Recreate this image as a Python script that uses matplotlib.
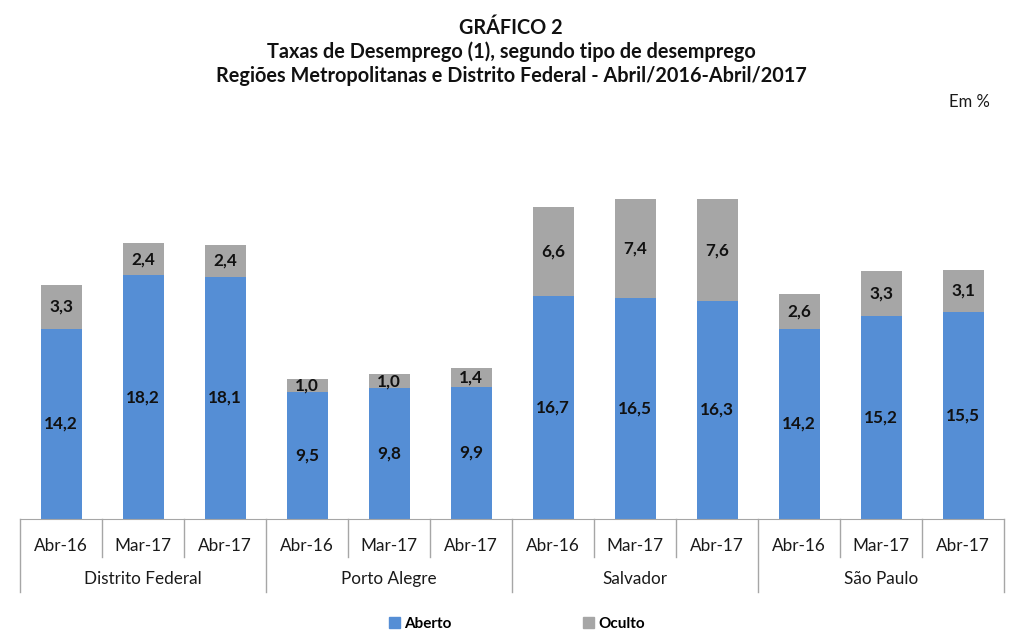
import matplotlib
matplotlib.use("Agg")
import matplotlib.pyplot as plt
from matplotlib.patches import Patch
import numpy as np

regions = ["Distrito Federal", "Porto Alegre", "Salvador", "São Paulo"]
periods = ["Abr-16", "Mar-17", "Abr-17"]
aberto = [14.2, 18.2, 18.1, 9.5, 9.8, 9.9, 16.7, 16.5, 16.3, 14.2, 15.2, 15.5]
oculto = [3.3, 2.4, 2.4, 1.0, 1.0, 1.4, 6.6, 7.4, 7.6, 2.6, 3.3, 3.1]
series_names = ["Aberto", "Oculto"]
colors = ["#558ED5", "#A6A6A6"]

plt.rcParams['font.family'] = ['Lato', 'DejaVu Sans']

W, H = 1024, 642
fig = plt.figure(figsize=(W / 100, H / 100), dpi=100)
ax_left, ax_right, ax_top, ax_bot = 20, 1004, 140, 519
ax = fig.add_axes([ax_left / W, (H - ax_bot) / H, (ax_right - ax_left) / W, (ax_bot - ax_top) / H])
ax_h = ax_bot - ax_top
ppu = 13.38
ax.set_ylim(0, ax_h / ppu)
n = len(aberto)
x = np.arange(n)
ax.set_xlim(-0.5, n - 0.5)

ax.bar(x, aberto, width=0.5, color=colors[0], label=series_names[0])
ax.bar(x, oculto, width=0.5, bottom=aberto, color=colors[1], label=series_names[1])

def fmt(v):
    return f"{v:.1f}".replace(".", ",")

for i in range(n):
    ax.text(x[i], aberto[i] / 2, fmt(aberto[i]), ha="center", va="center",
            fontsize=12.3, fontweight="bold", color="#111111")
    ax.text(x[i], aberto[i] + oculto[i] / 2, fmt(oculto[i]), ha="center", va="center",
            fontsize=12.3, fontweight="bold", color="#111111")

for s in ["top", "right", "left"]:
    ax.spines[s].set_visible(False)
ax.spines["bottom"].set_color("#A6A6A6")
ax.set_xticks([])
ax.set_yticks([])

lc = "#A6A6A6"
tr = ax.get_xaxis_transform()
def py(px):
    return -px / ax_h
for k in range(n + 1):
    b = k - 0.5
    depth = 73 if k % 3 == 0 else 38
    ax.plot([b, b], [0, py(depth)], color=lc, lw=1, transform=tr, clip_on=False)
for i in range(n):
    ax.text(x[i], py(27), periods[i % 3], ha="center", va="center", fontsize=12.3,
            color="#1a1a1a", transform=tr)
for g, r in enumerate(regions):
    ax.text(3 * g + 1, py(60), r, ha="center", va="center", fontsize=12.3,
            color="#1a1a1a", transform=tr)

titles = ["GRÁFICO 2",
          "Taxas de Desemprego (1), segundo tipo de desemprego",
          "Regiões Metropolitanas e Distrito Federal - Abril/2016-Abril/2017"]
for j, t in enumerate(titles):
    fig.text(511 / W, 1 - (28 + 24 * j) / H, t, ha="center", va="center",
             fontsize=14.3, fontweight="bold", color="#111111")
fig.text(990 / W, 1 - 102 / H, "Em %", ha="right", va="center", fontsize=12, color="#1a1a1a")

handles = [Patch(color=colors[0]), Patch(color=colors[1])]
leg = fig.legend(handles, series_names, loc="center", bbox_to_anchor=(517 / W, 1 - 624 / H),
                 ncol=2, frameon=False, handlelength=0.7, handleheight=0.7,
                 handletextpad=0.3, columnspacing=8.6,
                 prop={"weight": "bold", "size": 11})

fig.savefig("out.png", dpi=100)
